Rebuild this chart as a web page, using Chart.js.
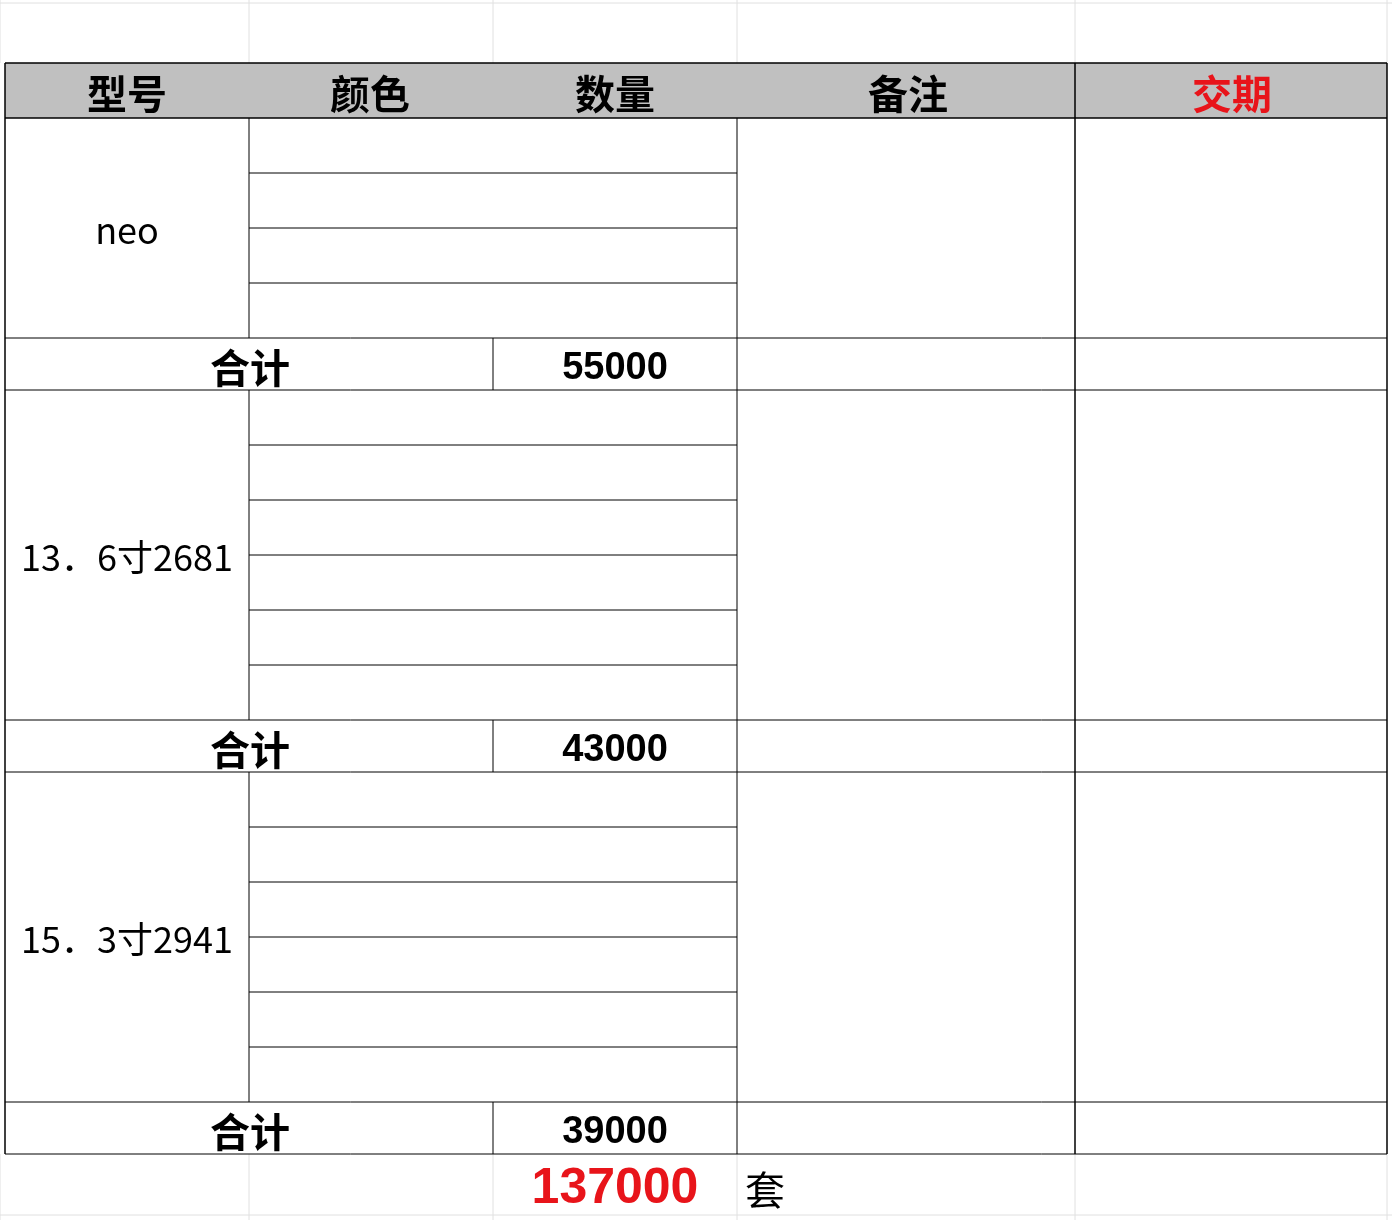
<!DOCTYPE html>
<html><head><meta charset="utf-8">
<script src="https://cdn.jsdelivr.net/npm/chart.js@4"></script>
<style>body{margin:0;background:#fff}canvas{display:block}</style>
</head><body>
<canvas id="c" width="1392" height="1220"></canvas>
<script>
const headers = ['型号','颜色','数量','备注','交期'];
const models = ['neo','13．6寸2681','15．3寸2941'];
const subRows = [4,6,6];
const subtotals = [55000,43000,39000];
const totalLabel = '合计';
const grandTotal = 137000;
const unit = '套';

const tablePlugin={id:'table',afterDraw(chart){
  const c=chart.ctx, X=v=>chart.scales.x.getPixelForValue(v), Y=v=>chart.scales.y.getPixelForValue(v);
  const line=(x1,y1,x2,y2,col,w)=>{c.strokeStyle=col;c.lineWidth=w;c.beginPath();c.moveTo(X(x1),Y(y1));c.lineTo(X(x2),Y(y2));c.stroke();};
  const text=(t,x,y,font,col)=>{c.font=font;c.fillStyle=col;c.textAlign='center';c.textBaseline='middle';c.fillText(t,X(x),Y(y));};
  [0,249,493,737,1075,1387].forEach(x=>{line(x,0,x,63,'#e0e0e0',1);line(x,1154,x,1220,'#e0e0e0',1);});
  line(0,3,1392,3,'#e0e0e0',1);line(0,1215,1392,1215,'#e0e0e0',1);
  c.fillStyle='#c0c0c0';c.fillRect(X(5),Y(63),X(1387)-X(5),Y(118)-Y(63));
  const hx=[127,370,615,908,1232];
  headers.forEach((h,i)=>text(h,hx[i],94,'bold 40px "Noto Sans CJK SC"',i===4?'#e8141a':'#000'));
  line(5,63,1387,63,'#000',1.5);line(5,118,1387,118,'#000',1.5);
  let y=118;
  models.forEach((m,i)=>{
    const h=subRows[i]*55;
    for(let k=1;k<subRows[i];k++) line(249,y+k*55,737,y+k*55,'#000',1);
    text(m,127,y+h/2+2,'36px "Noto Sans CJK SC"','#000');
    line(249,y,249,y+h,'#000',1);line(737,y,737,y+h,'#000',1);
    y+=h; line(5,y,1387,y,'#000',1);
    text(totalLabel,250,y+30,'bold 40px "Noto Sans CJK SC"','#000');
    text(String(subtotals[i]),615,y+31,'bold 38px "Liberation Sans"','#000');
    line(493,y,493,y+52,'#000',1);line(737,y,737,y+52,'#000',1);
    y+=52; line(5,y,1387,y,'#000',1);
  });
  [5,1075,1387].forEach(x=>line(x,63,x,1154,'#000',1.5));
  text(String(grandTotal),615,1189,'bold 50px "Liberation Sans"','#e8141a');
  text(unit,765,1190,'40px "Noto Sans CJK SC"','#000');
}};
new Chart(document.getElementById('c'),{type:'scatter',data:{datasets:[{data:[]}]},
 options:{responsive:false,animation:false,layout:{padding:0},
  plugins:{legend:{display:false},tooltip:{enabled:false}},
  scales:{x:{type:'linear',min:0,max:1392,display:false},y:{type:'linear',min:0,max:1220,reverse:true,display:false}}},
 plugins:[tablePlugin]});
</script></body></html>
